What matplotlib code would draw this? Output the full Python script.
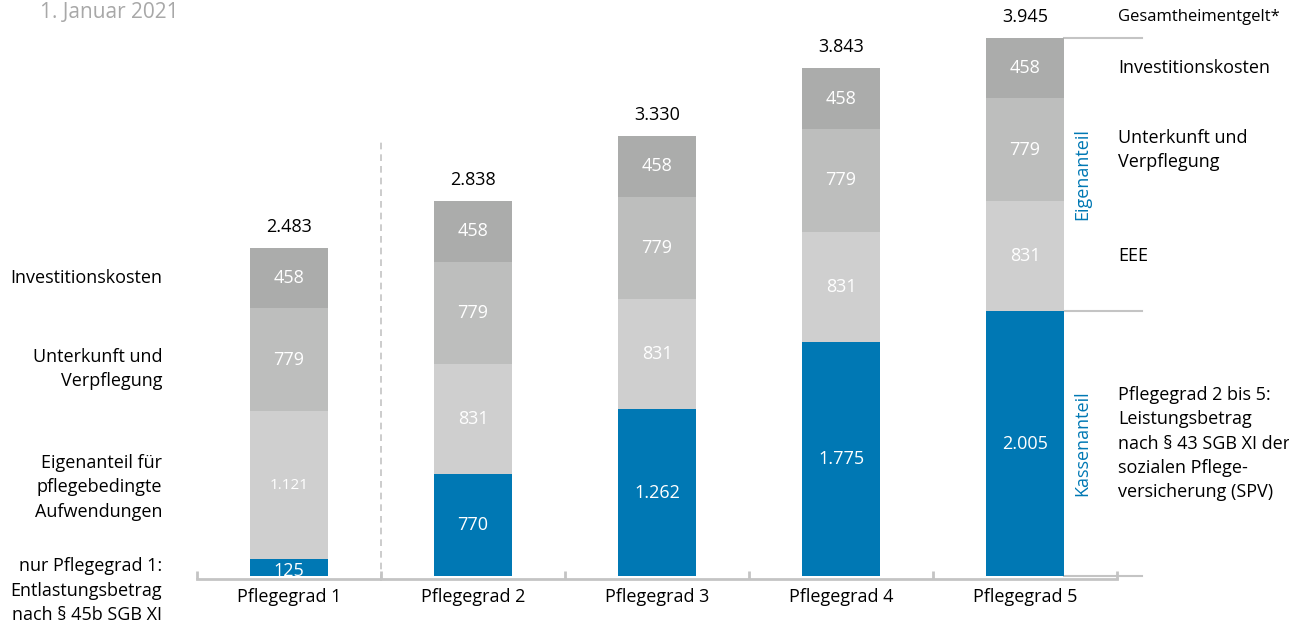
#!/usr/bin/env python3
"""Gesamtheimentgelt nach Pflegegrad, Stand 1. Januar 2021 (gestapelte Balken)."""

import matplotlib
matplotlib.use("Agg")
import matplotlib.pyplot as plt

# --- data ---
categories = ["Pflegegrad 1", "Pflegegrad 2", "Pflegegrad 3", "Pflegegrad 4", "Pflegegrad 5"]
kassenanteil = [125, 770, 1262, 1775, 2005]
eee = [1121, 831, 831, 831, 831]
unterkunft = [779, 779, 779, 779, 779]
investition = [458, 458, 458, 458, 458]
totals = [2483, 2838, 3330, 3843, 3945]

BLUE = "#0078b4"
C_EEE = "#cfcfcf"
C_UNT = "#bdbebd"
C_INV = "#abacab"
LINE = "#c4c4c4"
FS = 13

plt.rcParams["font.family"] = ["Open Sans", "DejaVu Sans"]


def de(v):
    return f"{v:,}".replace(",", ".")


fig = plt.figure(figsize=(12.89, 6.24), dpi=100)
W, H = 1289, 624
ax = fig.add_axes([197 / W, 48 / H, 920 / W, 576 / H])
ax.set_xlim(-0.5, 4.5)
ax.set_ylim(0, 4360)

x = list(range(len(categories)))
bw = 0.425
series = [(kassenanteil, BLUE), (eee, C_EEE), (unterkunft, C_UNT), (investition, C_INV)]
bottom = [0] * len(x)
for vals, col in series:
    ax.bar(x, vals, bw, bottom=bottom, color=col, zorder=3)
    for i, v in enumerate(vals):
        mid = bottom[i] + v / 2
        fs = 11 if v > 1000 and col == C_EEE else FS
        if v < 200:
            mid = bottom[i] + v / 2 - 25
        ax.text(i, mid, de(v), ha="center", va="center", color="white",
                fontsize=fs, zorder=4)
    bottom = [b + v for b, v in zip(bottom, vals)]

for i, t in enumerate(totals):
    ax.annotate(de(t), (i, bottom[i]), xytext=(0, 15), textcoords="offset points",
                ha="center", va="center", fontsize=FS, color="black")

# axis styling
for s in ["top", "right", "left"]:
    ax.spines[s].set_visible(False)
ax.spines["bottom"].set_color(LINE)
ax.spines["bottom"].set_linewidth(2)
ax.spines["bottom"].set_position(("outward", 2))
ax.set_yticks([])
ax.set_xticks(x)
ax.set_xticklabels(categories, fontsize=FS)
ax.tick_params(axis="x", which="major", length=0, pad=7)
ax.set_xticks([i - 0.5 for i in range(len(x) + 1)], minor=True)
ax.tick_params(axis="x", which="minor", direction="in", length=6, width=2, color=LINE)

# dashed separator between Pflegegrad 1 and 2
ax.plot([0.5, 0.5], [-40, 3300], ls=(0, (4, 3)), color=LINE, lw=1.2, clip_on=False, zorder=1)

# bracket lines to the right of bar 5
last = len(x) - 1
xr0, xr1 = last + bw / 2, last + 0.636
for yv in [0, kassenanteil[last], bottom[last]]:
    ax.plot([xr0, xr1], [yv, yv], color=LINE, lw=1.5, clip_on=False)
ax.text(last + 0.31, kassenanteil[last] + (bottom[last] - kassenanteil[last]) / 2,
        "Eigenanteil", rotation=90, ha="center", va="center", color=BLUE, fontsize=FS)
ax.text(last + 0.31, kassenanteil[last] / 2, "Kassenanteil", rotation=90,
        ha="center", va="center", color=BLUE, fontsize=FS)

# right-hand labels
xr = last + 0.505
b5 = [0]
for vals, _ in series:
    b5.append(b5[-1] + vals[last])
ax.annotate("Gesamtheimentgelt*", (xr, bottom[last]), xytext=(0, 15), textcoords="offset points",
            ha="left", va="center", fontsize=12, annotation_clip=False)
ax.text(xr, (b5[3] + b5[4]) / 2, "Investitionskosten", ha="left", va="center", fontsize=FS)
ax.text(xr, (b5[2] + b5[3]) / 2, "Unterkunft und\nVerpflegung", ha="left", va="center",
        fontsize=FS, linespacing=1.45)
ax.text(xr, (b5[1] + b5[2]) / 2, "EEE", ha="left", va="center", fontsize=FS)
ax.text(xr, (b5[0] + b5[1]) / 2,
        "Pflegegrad 2 bis 5:\nLeistungsbetrag\nnach § 43 SGB XI der\nsozialen Pflege-\nversicherung (SPV)",
        ha="left", va="center", fontsize=FS, linespacing=1.45)

# left-hand labels (Pflegegrad 1)
xl = -0.69
b1 = [0]
for vals, _ in series:
    b1.append(b1[-1] + vals[0])
ax.text(xl, (b1[3] + b1[4]) / 2, "Investitionskosten", ha="right", va="center", fontsize=FS)
ax.text(xl, (b1[2] + b1[3]) / 2 - 70, "Unterkunft und\nVerpflegung", ha="right", va="center",
        fontsize=FS, linespacing=1.45)
ax.text(xl, (b1[1] + b1[2]) / 2 - 15, "Eigenanteil für\npflegebedingte\nAufwendungen",
        ha="right", va="center", fontsize=FS, linespacing=1.45)
ax.text(xl, -110, "nur Pflegegrad 1:\nEntlastungsbetrag\nnach § 45b SGB XI",
        ha="right", va="center", fontsize=FS, linespacing=1.45, clip_on=False)

fig.text(40 / W, 1 - 12 / H, "1. Januar 2021", ha="left", va="center", fontsize=15,
         color="#a8a8a8")

fig.savefig("out.png", dpi=100)
